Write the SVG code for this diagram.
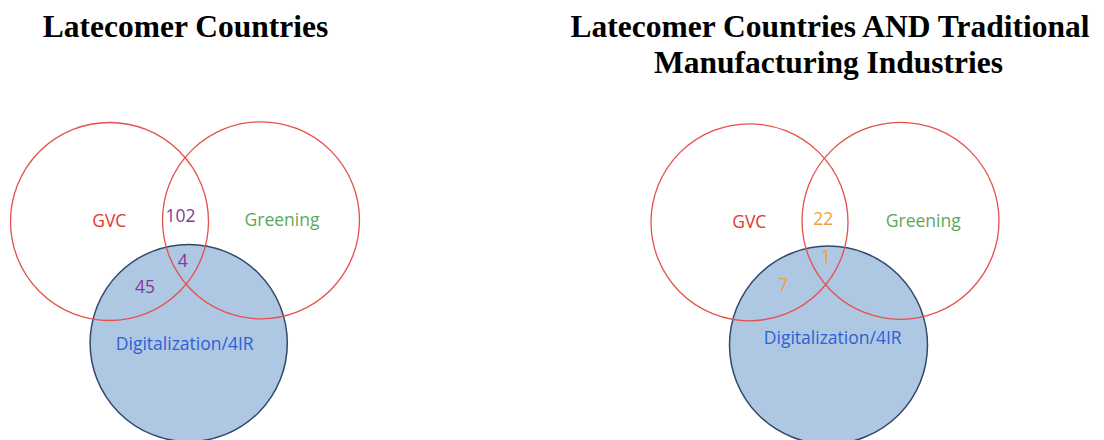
<svg xmlns="http://www.w3.org/2000/svg" width="1104" height="440" viewBox="0 0 1104 440">
<style>
.title{font-family:"Liberation Serif","Times New Roman",serif;font-weight:bold;font-size:31.5px;fill:#000;text-anchor:middle}
.set{fill:none;stroke:#e5504a;stroke-width:1.3}
.digi{fill:#aec7e3;stroke:#34496a;stroke-width:1.5}
.lbl{font-family:"Open Sans","Noto Sans",sans-serif;font-size:17.5px;text-anchor:middle}
.gvc{fill:#e2372e}
.green{fill:#5aa85a}
.blue{fill:#2f5fd6}
.purple{fill:#84379b}
.orange{fill:#f0a13c}
</style>
<rect width="1104" height="440" fill="#fff"/>
<text class="title" x="185.5" y="37">Latecomer Countries</text>
<text class="title" x="830" y="37">Latecomer Countries AND Traditional</text>
<text class="title" x="828.5" y="73">Manufacturing Industries</text>

<g id="left-venn">
  <g id="left-digitalization"><circle class="digi" cx="188.7" cy="343" r="98.6"/></g>
  <g id="left-gvc"><circle class="set" cx="109.5" cy="221.5" r="99"/></g>
  <g id="left-greening"><circle class="set" cx="261" cy="220.3" r="98.5"/></g>
  <text class="lbl gvc" x="109.3" y="227.3">GVC</text>
  <text class="lbl green" x="282" y="226">Greening</text>
  <text class="lbl purple" x="180.5" y="221.7">102</text>
  <text class="lbl purple" x="182.7" y="266.7">4</text>
  <text class="lbl purple" x="145" y="293.3">45</text>
  <text class="lbl blue" x="184.7" y="349.5">Digitalization/4IR</text>
</g>

<g id="right-venn">
  <g id="right-digitalization"><circle class="digi" cx="828.5" cy="345" r="99"/></g>
  <g id="right-gvc"><circle class="set" cx="749.5" cy="222.3" r="98.5"/></g>
  <g id="right-greening"><circle class="set" cx="900.5" cy="220.8" r="98.5"/></g>
  <text class="lbl gvc" x="749.3" y="227.7">GVC</text>
  <text class="lbl green" x="923.3" y="226.7">Greening</text>
  <text class="lbl orange" x="823.3" y="225">22</text>
  <text class="lbl orange" x="826" y="262.7">1</text>
  <text class="lbl orange" x="783.3" y="290.7">7</text>
  <text class="lbl blue" x="832.7" y="344.3">Digitalization/4IR</text>
</g>
</svg>
